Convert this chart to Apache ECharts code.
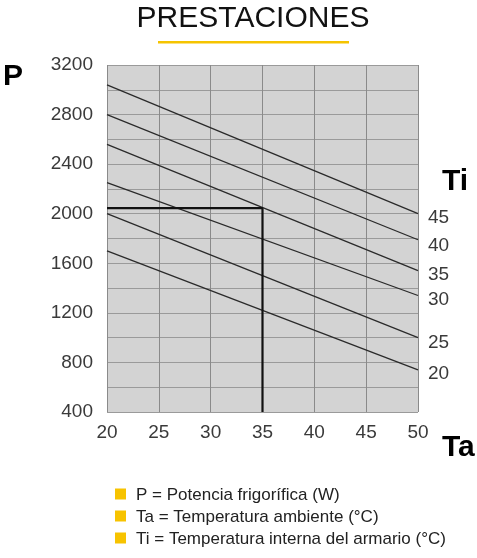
<!DOCTYPE html>
<html>
<head>
<meta charset="utf-8">
<script src="https://cdn.jsdelivr.net/npm/echarts@6/dist/echarts.min.js"></script>
<style>
html,body{margin:0;padding:0;background:#fff;}
#chart{width:477px;height:558px;}
</style>
</head>
<body>
<div id="chart"></div>
<script>
// Ambient temperature axis (Ta, °C)
var taStart = 20;
var taEnd = 50;
// Internal cabinet temperature levels (Ti, °C)
var tiLevels = [45, 40, 35, 30, 25, 20];
// Cooling power P (W) at Ta = 20 and Ta = 50 for each Ti level
var pAtTaStart = [3040, 2800, 2560, 2250, 2000, 1700];
var pAtTaEnd = [2000, 1790, 1540, 1340, 1000, 740];
// Example operating point
var opTa = 35;
var opP = 2045;
// Axis settings
var pMin = 400, pMax = 3200, pStep = 200, pLabelStep = 400;
var taStep = 5;
var legendLines = [
  'P = Potencia frigorífica (W)',
  'Ta = Temperatura ambiente (°C)',
  'Ti = Temperatura interna del armario (°C)'
];
var labelDy = [4.5, 6.5, 4, 4.5, 5.5, 3.5];

var FONT = 'Liberation Sans, Arial, Helvetica, sans-serif';
var chart = echarts.init(document.getElementById('chart'), null, {renderer: 'canvas'});

var series = tiLevels.map(function (ti, i) {
  return {
    type: 'line',
    name: 'Ti ' + ti,
    data: [[taStart, pAtTaStart[i]], [taEnd, pAtTaEnd[i]]],
    symbol: 'none',
    silent: true,
    lineStyle: {color: '#2a2a2a', width: 1.3},
    endLabel: {
      show: true,
      formatter: String(ti),
      distance: 10,
      offset: [0, labelDy[i]],
      fontFamily: FONT,
      fontSize: 19,
      color: '#3a3a3a'
    },
    z: 3
  };
});
series.push({
  type: 'line',
  name: 'op',
  data: [[taStart, opP], [opTa, opP], [opTa, pMin]],
  symbol: 'none',
  silent: true,
  lineStyle: {color: '#111', width: 2.2},
  z: 4
});

var legendGraphics = [];
legendLines.forEach(function (t, i) {
  var cy = 494 + i * 22;
  legendGraphics.push({
    type: 'rect', left: 115, top: cy - 5.5,
    shape: {width: 11, height: 11},
    style: {fill: '#f7c300'}
  });
  legendGraphics.push({
    type: 'text', x: 136, y: cy + 1,
    style: {text: t, font: '17px ' + FONT, fill: '#222', verticalAlign: 'middle'}
  });
});

var option = {
  animation: false,
  grid: {
    left: 107, top: 65, width: 311, height: 347,
    show: true, backgroundColor: '#d3d3d3', borderWidth: 0
  },
  xAxis: {
    type: 'value', min: taStart, max: taEnd, interval: taStep,
    axisLine: {show: false}, axisTick: {show: false},
    axisLabel: {fontFamily: FONT, fontSize: 19, color: '#3a3a3a', margin: 11},
    splitLine: {show: true, lineStyle: {color: '#8a8a8a', width: 1}}
  },
  yAxis: {
    type: 'value', min: pMin, max: pMax, interval: pStep,
    axisLine: {show: false}, axisTick: {show: false},
    axisLabel: {
      fontFamily: FONT, fontSize: 19, color: '#3a3a3a', margin: 14,
      formatter: function (v) { return (v - pMin) % pLabelStep === 0 ? String(v) : ''; }
    },
    splitLine: {show: true, lineStyle: {color: '#9a9a9a', width: 1}}
  },
  series: series,
  graphic: [
    {type: 'text', x: 253, y: 19,
     style: {text: 'PRESTACIONES', font: '30px ' + FONT, fill: '#111', align: 'center', verticalAlign: 'middle'}},
    {type: 'rect', left: 158, top: 41, shape: {width: 191, height: 2.5}, style: {fill: '#f5c400'}},
    {type: 'text', x: 3, y: 77,
     style: {text: 'P', font: 'bold 30px ' + FONT, fill: '#000', verticalAlign: 'middle'}},
    {type: 'text', x: 442, y: 182,
     style: {text: 'Ti', font: 'bold 30px ' + FONT, fill: '#000', verticalAlign: 'middle'}},
    {type: 'text', x: 442, y: 448,
     style: {text: 'Ta', font: 'bold 30px ' + FONT, fill: '#000', verticalAlign: 'middle'}}
  ].concat(legendGraphics)
};
chart.setOption(option);
</script>
</body>
</html>
